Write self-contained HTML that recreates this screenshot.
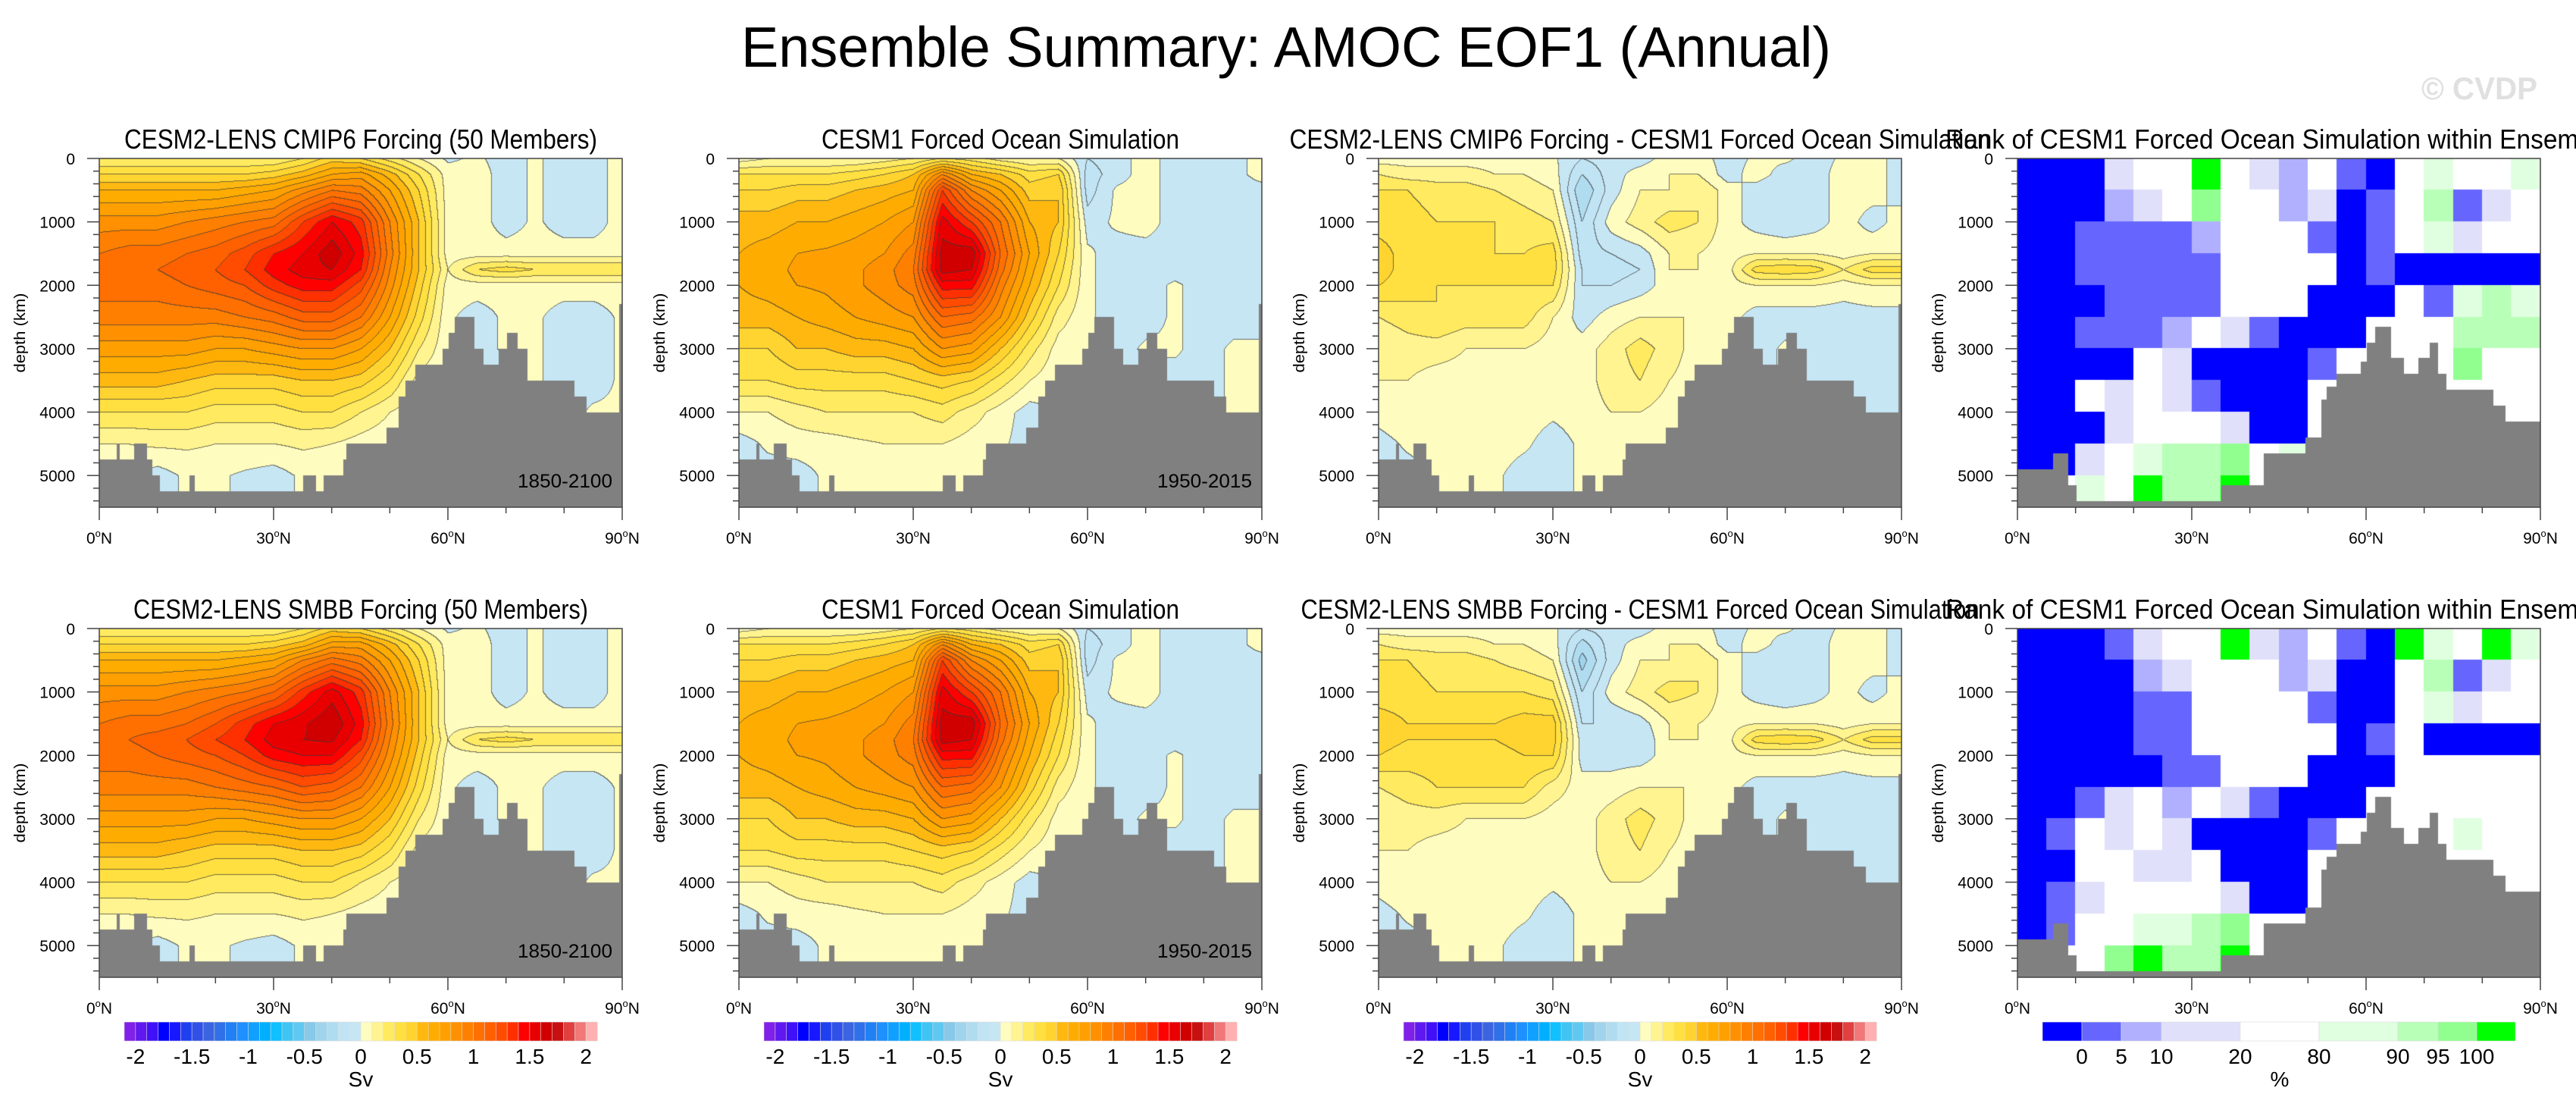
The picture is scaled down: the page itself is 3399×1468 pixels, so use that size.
<!DOCTYPE html>
<html><head><meta charset="utf-8"><title>Ensemble Summary: AMOC EOF1 (Annual)</title>
<style>
html,body{margin:0;padding:0;background:#fff}
body{width:3399px;height:1468px;position:relative;overflow:hidden;font-family:"Liberation Sans",sans-serif}
canvas{position:absolute}
#ov{position:absolute;left:0;top:0}
</style></head>
<body>
<canvas id="p0" width="690" height="460" style="left:131px;top:209px"></canvas>
<canvas id="p1" width="690" height="460" style="left:975px;top:209px"></canvas>
<canvas id="p2" width="690" height="460" style="left:1819px;top:209px"></canvas>
<canvas id="p3" width="690" height="460" style="left:2662px;top:209px"></canvas>
<canvas id="p4" width="690" height="460" style="left:131px;top:829px"></canvas>
<canvas id="p5" width="690" height="460" style="left:975px;top:829px"></canvas>
<canvas id="p6" width="690" height="460" style="left:1819px;top:829px"></canvas>
<canvas id="p7" width="690" height="460" style="left:2662px;top:829px"></canvas>
<svg id="ov" width="3399" height="1468" xmlns="http://www.w3.org/2000/svg" font-family="Liberation Sans, sans-serif">
<text x="1697" y="88" font-size="75" text-anchor="middle" textLength="1438" lengthAdjust="spacingAndGlyphs">Ensemble Summary: AMOC EOF1 (Annual)</text>
<text x="3348" y="131" font-size="42" font-weight="bold" fill="#e0e0e0" text-anchor="end" textLength="153" lengthAdjust="spacingAndGlyphs">© CVDP</text>
<g id="axes"></g>
</svg>
<script>
const latGrid=[0,5,10,15,20,25,30,35,40,45,50,55,60,65,70,75,80,85,90];
const depthGrid=[0,250,500,1000,1500,1750,2000,2500,3000,3500,4000,4500,5000];
const cmip6Field=[
[0.2,0.2,0.2,0.2,0.2,0.2,0.2,0.3,0.45,0.4,0.25,0.1,-0.02,0.02,-0.05,0.02,-0.05,-0.05,0.05],
[0.4,0.4,0.4,0.4,0.4,0.4,0.45,0.55,0.7,0.75,0.55,0.3,0.05,0.05,-0.05,0.02,-0.05,-0.05,0.05],
[0.6,0.6,0.6,0.6,0.6,0.65,0.7,0.85,1.0,0.95,0.7,0.4,0.05,0.05,-0.05,0.02,-0.05,-0.05,0.05],
[0.85,0.85,0.85,0.9,0.95,1.0,1.05,1.3,1.5,1.35,0.9,0.5,0.05,0.05,-0.05,0.02,-0.05,-0.05,0.05],
[1.0,1.05,1.05,1.1,1.15,1.25,1.4,1.5,1.68,1.45,0.95,0.5,0.05,0.05,0.05,0.05,0.05,0.05,0.05],
[1.05,1.1,1.1,1.15,1.2,1.3,1.45,1.55,1.6,1.4,0.9,0.5,0.1,0.3,0.35,0.3,0.3,0.3,0.3],
[1.05,1.05,1.05,1.1,1.15,1.2,1.35,1.45,1.45,1.25,0.85,0.45,0.05,0.05,0.05,0.05,0.05,0.05,0.05],
[0.95,0.95,0.95,0.95,0.95,1.0,1.05,1.15,1.15,1.0,0.7,0.35,0.02,-0.05,0.02,0.02,-0.05,-0.05,0.02],
[0.75,0.75,0.75,0.75,0.7,0.7,0.75,0.8,0.8,0.7,0.5,0.2,0.02,-0.05,0.02,0.02,-0.05,-0.05,0.02],
[0.55,0.55,0.55,0.5,0.45,0.45,0.45,0.5,0.5,0.45,0.3,0.05,0.02,-0.05,-0.05,0.02,-0.05,-0.05,0.02],
[0.3,0.3,0.3,0.3,0.25,0.25,0.25,0.3,0.3,0.2,0.1,0.02,0.02,-0.05,-0.05,-0.05,-0.05,0.02,0.02],
[0.1,0.1,0.12,0.12,0.1,0.1,0.1,0.12,0.1,0.05,0.02,0.02,0.02,-0.05,-0.05,-0.05,-0.05,0.02,0.02],
[0.02,0.02,-0.05,0.02,0.02,-0.02,-0.05,0.02,0.02,0.02,0.02,0.02,0.02,-0.05,-0.05,-0.05,-0.05,0.02,0.02]];
const cesm1Field=[
[0.05,0.1,0.1,0.1,0.1,0.15,0.2,0.3,0.25,0.15,0.1,0.1,-0.1,-0.05,0.05,-0.05,-0.05,-0.05,0.05],
[0.3,0.3,0.3,0.3,0.35,0.4,0.5,0.9,0.6,0.5,0.35,0.4,-0.15,-0.05,0.05,-0.05,-0.1,-0.05,0.05],
[0.4,0.4,0.45,0.45,0.5,0.55,0.6,1.3,0.9,0.7,0.45,0.5,-0.15,0.02,0.05,-0.05,-0.1,-0.05,-0.05],
[0.55,0.55,0.6,0.6,0.65,0.7,0.8,1.55,1.3,1.0,0.6,0.5,-0.05,0.02,0.05,-0.05,-0.1,-0.05,-0.05],
[0.6,0.65,0.7,0.72,0.75,0.8,0.95,1.65,1.68,1.1,0.7,0.4,0.02,-0.05,-0.05,-0.05,-0.05,-0.05,-0.05],
[0.62,0.66,0.72,0.75,0.78,0.85,1.0,1.65,1.6,1.05,0.65,0.35,0.02,-0.05,-0.05,-0.05,-0.05,-0.05,-0.05],
[0.6,0.65,0.7,0.72,0.78,0.85,0.95,1.45,1.45,0.95,0.6,0.3,0.02,-0.05,-0.05,0.02,-0.05,-0.05,-0.05],
[0.55,0.55,0.6,0.65,0.7,0.75,0.8,1.1,1.05,0.8,0.45,0.15,0.02,-0.05,-0.05,0.02,-0.05,-0.05,-0.05],
[0.4,0.4,0.5,0.5,0.55,0.55,0.6,0.8,0.75,0.5,0.25,0.05,0.02,-0.05,0.02,0.02,-0.05,0.02,0.02],
[0.3,0.3,0.35,0.35,0.35,0.35,0.4,0.45,0.4,0.25,0.1,0.02,0.02,-0.05,-0.05,-0.05,-0.05,0.02,0.02],
[0.1,0.1,0.15,0.2,0.2,0.2,0.2,0.25,0.15,0.05,-0.05,0.02,0.02,-0.05,-0.05,-0.05,-0.05,0.02,0.02],
[-0.05,0.02,0.05,0.05,0.08,0.1,0.1,0.1,0.05,0.02,-0.05,0.02,0.02,-0.05,-0.05,-0.05,-0.05,0.02,0.02],
[-0.05,-0.05,-0.05,0.02,0.02,0.02,0.02,0.02,0.02,0.02,-0.05,0.02,0.02,-0.05,-0.05,-0.05,-0.05,0.02,0.02]];
const diffCmip6Field=[
[0.05,0.05,0.05,0.05,0.05,0.05,0.02,-0.1,-0.05,-0.05,0.05,0.05,-0.05,0.02,0.02,-0.05,0.02,0.05,-0.05],
[0.2,0.15,0.15,0.15,0.1,0.1,0.05,-0.2,-0.05,0.05,0.1,0.1,-0.05,0.05,-0.05,-0.05,0.05,0.05,-0.05],
[0.3,0.3,0.25,0.25,0.2,0.15,0.1,-0.3,-0.05,0.1,0.1,0.2,0.05,-0.05,-0.1,-0.05,0.05,0.05,-0.05],
[0.35,0.35,0.3,0.3,0.3,0.25,0.2,-0.2,0.05,0.15,0.25,0.2,0.05,-0.05,-0.1,-0.05,0.05,-0.05,0.05],
[0.45,0.35,0.35,0.35,0.3,0.3,0.35,-0.15,-0.1,-0.05,0.1,0.1,0.05,0.1,0.1,0.1,0.05,0.1,0.1],
[0.45,0.35,0.35,0.35,0.3,0.3,0.35,-0.1,-0.15,-0.1,0.1,0.1,0.05,0.35,0.38,0.35,0.2,0.35,0.35],
[0.4,0.35,0.3,0.3,0.3,0.3,0.3,-0.1,-0.1,-0.05,0.05,0.05,0.05,0.1,0.1,0.1,0.05,0.1,0.1],
[0.2,0.25,0.3,0.25,0.25,0.25,0.1,-0.05,0.05,0.1,0.1,0.1,0.05,-0.05,-0.05,-0.05,-0.05,-0.05,-0.05],
[0.1,0.15,0.15,0.1,0.1,0.1,0.05,0.05,0.15,0.25,0.15,0.05,0.05,-0.05,0.02,-0.05,-0.05,-0.05,-0.05],
[0.1,0.1,0.05,0.05,0.05,0.05,0.02,0.05,0.15,0.2,0.1,0.05,0.05,-0.05,0.02,-0.05,-0.05,-0.05,-0.05],
[0.05,0.1,0.05,0.02,0.05,0.05,0.02,0.05,0.1,0.1,0.05,0.02,0.02,-0.05,-0.05,-0.05,-0.05,-0.05,-0.05],
[-0.05,0.02,0.05,0.05,0.05,0.02,-0.05,0.02,0.05,0.05,0.02,0.02,0.02,-0.05,-0.05,-0.05,-0.05,-0.05,-0.05],
[-0.05,-0.05,0.02,0.02,0.02,-0.05,-0.05,0.02,0.02,0.02,0.02,0.02,0.02,-0.05,-0.05,-0.05,-0.05,-0.05,-0.05]];
const smbbField=[
[0.2,0.2,0.2,0.2,0.2,0.2,0.2,0.3,0.45,0.4,0.25,0.1,-0.02,0.02,-0.05,0.02,-0.05,-0.05,0.05],
[0.4,0.4,0.4,0.4,0.4,0.4,0.45,0.55,0.75,0.75,0.55,0.3,0.05,0.05,-0.05,0.02,-0.05,-0.05,0.05],
[0.6,0.6,0.6,0.6,0.6,0.65,0.7,0.9,1.05,0.95,0.7,0.4,0.05,0.05,-0.05,0.02,-0.05,-0.05,0.05],
[0.85,0.85,0.85,0.9,0.95,1.0,1.1,1.35,1.55,1.35,0.9,0.5,0.05,0.05,-0.05,0.02,-0.05,-0.05,0.05],
[1.0,1.05,1.05,1.1,1.2,1.35,1.5,1.58,1.7,1.45,0.95,0.5,0.05,0.05,0.05,0.05,0.05,0.05,0.05],
[1.05,1.1,1.15,1.2,1.3,1.4,1.55,1.6,1.62,1.4,0.9,0.5,0.1,0.3,0.35,0.3,0.3,0.3,0.3],
[1.05,1.05,1.1,1.15,1.2,1.3,1.45,1.5,1.5,1.25,0.85,0.45,0.05,0.05,0.05,0.05,0.05,0.05,0.05],
[0.95,0.95,0.95,0.95,1.0,1.05,1.1,1.2,1.15,1.0,0.7,0.35,0.02,-0.05,0.02,0.02,-0.05,-0.05,0.02],
[0.75,0.75,0.75,0.75,0.7,0.7,0.75,0.8,0.8,0.7,0.5,0.2,0.02,-0.05,0.02,0.02,-0.05,-0.05,0.02],
[0.55,0.55,0.55,0.5,0.45,0.45,0.45,0.5,0.5,0.45,0.3,0.05,0.02,-0.05,-0.05,0.02,-0.05,-0.05,0.02],
[0.3,0.3,0.3,0.3,0.25,0.25,0.25,0.3,0.3,0.2,0.1,0.02,0.02,-0.05,-0.05,-0.05,-0.05,0.02,0.02],
[0.1,0.1,0.12,0.12,0.1,0.1,0.1,0.12,0.1,0.05,0.02,0.02,0.02,-0.05,-0.05,-0.05,-0.05,0.02,0.02],
[0.02,0.02,-0.05,0.02,0.02,-0.02,-0.05,0.02,0.02,0.02,0.02,0.02,0.02,-0.05,-0.05,-0.05,-0.05,0.02,0.02]];
const diffSmbbField=[
[0.05,0.05,0.05,0.05,0.05,0.05,0.02,-0.1,-0.05,-0.05,0.05,0.05,-0.05,0.02,0.02,-0.05,0.02,0.05,-0.05],
[0.2,0.15,0.15,0.15,0.1,0.1,0.05,-0.25,-0.05,0.05,0.1,0.1,-0.05,0.05,-0.05,-0.05,0.05,0.05,-0.05],
[0.3,0.3,0.25,0.25,0.2,0.15,0.1,-0.35,-0.05,0.1,0.1,0.2,0.05,-0.05,-0.1,-0.05,0.05,0.05,-0.05],
[0.35,0.35,0.3,0.3,0.3,0.3,0.25,-0.2,0.05,0.15,0.25,0.2,0.05,-0.05,-0.1,-0.05,0.05,-0.05,0.05],
[0.45,0.4,0.4,0.4,0.4,0.45,0.45,-0.1,-0.1,-0.05,0.1,0.1,0.05,0.1,0.1,0.1,0.05,0.1,0.1],
[0.45,0.4,0.4,0.4,0.4,0.45,0.45,-0.05,-0.1,-0.1,0.1,0.1,0.05,0.35,0.38,0.35,0.2,0.35,0.35],
[0.4,0.35,0.35,0.35,0.35,0.4,0.4,-0.05,-0.05,-0.05,0.05,0.05,0.05,0.1,0.1,0.1,0.05,0.1,0.1],
[0.2,0.25,0.3,0.3,0.3,0.3,0.15,0.05,0.05,0.1,0.1,0.1,0.05,-0.05,-0.05,-0.05,-0.05,-0.05,-0.05],
[0.1,0.15,0.15,0.1,0.1,0.1,0.05,0.05,0.15,0.25,0.15,0.05,0.05,-0.05,0.02,-0.05,-0.05,-0.05,-0.05],
[0.1,0.1,0.05,0.05,0.05,0.05,0.02,0.05,0.15,0.2,0.1,0.05,0.05,-0.05,0.02,-0.05,-0.05,-0.05,-0.05],
[0.05,0.1,0.05,0.02,0.05,0.05,0.02,0.05,0.1,0.1,0.05,0.02,0.02,-0.05,-0.05,-0.05,-0.05,-0.05,-0.05],
[-0.05,0.02,0.05,0.05,0.05,0.02,-0.05,0.02,0.05,0.05,0.02,0.02,0.02,-0.05,-0.05,-0.05,-0.05,-0.05,-0.05],
[-0.05,-0.05,0.02,0.02,0.02,-0.05,-0.05,0.02,0.02,0.02,0.02,0.02,0.02,-0.05,-0.05,-0.05,-0.05,-0.05,-0.05]];
const rankLatEdges=[0,5,10,15,20,25,30,35,40,45,50,55,60,65,70,75,80,85,90];
const rankDepthEdges=[0,500,1000,1500,2000,2500,3000,3500,4000,4500,5000,5500];
const rankCmip6=[
[-1,-1,-1,15,50,50,101,50,15,7,50,2,-1,50,85,50,50,85],
[-1,-1,-1,7,15,50,97,50,50,7,15,-1,2,50,92,2,15,50],
[-1,-1,2,2,2,2,7,50,50,50,2,-1,2,50,85,15,50,50],
[-1,-1,2,2,2,2,2,50,50,50,50,-1,2,-1,-1,-1,-1,-1],
[-1,-1,-1,2,2,2,2,50,50,50,-1,-1,-1,50,2,85,92,85],
[-1,-1,2,2,2,7,50,15,2,-1,-1,-1,50,50,50,92,92,92],
[-1,-1,-1,-1,50,15,-1,-1,-1,-1,2,50,50,50,50,97,50,50],
[-1,-1,50,15,50,15,2,-1,-1,-1,50,50,50,50,50,50,50,50],
[-1,-1,-1,15,50,50,50,15,-1,-1,50,50,50,50,50,50,50,50],
[-1,-1,15,50,85,92,92,97,50,85,50,50,50,50,50,50,50,50],
[50,50,85,50,101,92,92,101,50,50,50,50,50,50,50,50,50,50]];
const rankSmbb=[
[-1,-1,-1,2,15,50,50,101,15,7,50,2,-1,101,85,50,101,85],
[-1,-1,-1,-1,7,15,50,50,50,7,15,-1,-1,50,92,2,15,50],
[-1,-1,-1,-1,2,2,50,50,50,50,2,-1,-1,50,85,15,50,50],
[-1,-1,-1,-1,2,2,50,50,50,50,50,-1,2,50,-1,-1,-1,-1],
[-1,-1,-1,-1,-1,2,2,50,50,50,-1,-1,-1,50,50,50,50,50],
[-1,-1,2,15,50,7,50,15,2,-1,-1,-1,50,50,50,50,50,50],
[-1,2,50,15,50,15,-1,-1,-1,-1,2,50,50,50,50,85,50,50],
[-1,-1,50,50,15,15,50,-1,-1,-1,50,50,50,50,50,50,50,50],
[-1,2,15,50,50,50,50,15,-1,-1,50,50,50,50,50,50,50,50],
[-1,2,50,50,85,85,92,97,50,50,50,50,50,50,50,50,50,50],
[50,50,50,97,101,92,92,101,50,50,50,50,50,50,50,50,50,50]];
const topoLat=[0,3.0,3.4,6.1,8.2,9.1,10.4,15.6,16.4,35.1,37.3,38.7,42.0,42.6,49.5,51.6,52.8,54.4,59.1,60.2,61.3,64.5,66.1,68.8,70.3,72.0,73.6,81.7,83.8,89.5];
const topoDepth=[4750,4500,4750,4500,4750,5000,5250,5000,5250,5000,5250,5000,4750,4500,4250,3750,3500,3250,3000,2750,2500,3000,3250,3000,2750,3000,3500,3750,4000,2300];
const rankTopoLat=[0,6.2,8.7,10.1,35.2,42.4,49.6,52.4,53.3,55.0,59.2,60.2,61.6,64.2,66.4,69.0,71.0,72.3,73.8,81.9,83.9];
const rankTopoDepth=[4900,4650,5150,5400,5150,4650,4400,3800,3600,3400,3200,2900,2650,3150,3400,3150,2900,3400,3650,3900,4150];
const svTicks=[-2,-1.5,-1,-0.5,0,0.5,1,1.5,2];
const svLevels=[-2,-1.9,-1.8,-1.7,-1.6,-1.5,-1.4,-1.3,-1.2,-1.1,-1,-0.9,-0.8,-0.7,-0.6,-0.5,-0.4,-0.3,-0.2,-0.1,0,0.1,0.2,0.3,0.4,0.5,0.6,0.7,0.8,0.9,1,1.1,1.2,1.3,1.4,1.5,1.6,1.7,1.8,1.9,2];
const svColors=["#8020e8","#6018f0","#4010f8","#0000ff","#1818ff","#2040f0","#3050e8","#3c64e0","#3070e8","#2080f4","#1e90ff","#10a0ff","#00b0ff","#10c0ff","#40c4f4","#60c8f0","#88c8e8","#a0d4ec","#b0dcf0","#c0e4f4","#c6e6f4",
"#fffcc0","#fff490","#ffea60","#ffe040","#ffd430","#ffb810","#ffac00","#ffa000","#ff9000","#ff8000","#ff7000","#ff6000","#ff4c00","#ff3000","#ff0000","#e80000","#d00000","#c81010","#e04040","#f07878","#ffb0b0"];
const rankLevels=[0,5,10,20,80,90,95,100];
const rankColors=["#0000ff","#6666ff","#b0b0ff","#e0e0fa","#ffffff","#e0ffe0","#b8ffb8","#90ff90","#00ff00"];
const xTicks=[0,30,60,90];
const yTicks=[0,1000,2000,3000,4000,5000];

const W=690,H=460,LATMAX=90,DMAX=5500;
const panelX=[131,975,1819,2662], panelY=[209,829];
function xScale(lat){return lat/LATMAX*W;}
function yScale(d){return d/DMAX*H;}
function hex(c){return [parseInt(c.substr(1,2),16),parseInt(c.substr(3,2),16),parseInt(c.substr(5,2),16)];}
const svRGB=svColors.map(hex);
function svIndex(v){v=Math.round(v*1e6)/1e6;let i=0;while(i<svLevels.length&&v>=svLevels[i]-1e-9)i++;return i;}
function rankIndex(v){let i=0;while(i<rankLevels.length&&v>=rankLevels[i])i++;return i;}
function interp(field,lat,d){
  let i=0;while(i<latGrid.length-2&&lat>latGrid[i+1])i++;
  let j=0;if(d>depthGrid[depthGrid.length-1])d=depthGrid[depthGrid.length-1];
  while(j<depthGrid.length-2&&d>depthGrid[j+1])j++;
  const tx=Math.min(1,Math.max(0,(lat-latGrid[i])/(latGrid[i+1]-latGrid[i])));
  const ty=Math.min(1,Math.max(0,(d-depthGrid[j])/(depthGrid[j+1]-depthGrid[j])));
  const a=field[j][i],b=field[j][i+1],c=field[j+1][i],e=field[j+1][i+1];
  return a*(1-tx)*(1-ty)+b*tx*(1-ty)+c*(1-tx)*ty+e*tx*ty;
}
function drawTopo(ctx,lats,deps){
  ctx.fillStyle="#808080";
  for(let k=0;k<lats.length;k++){
    const x0=xScale(lats[k]),x1=xScale(k+1<lats.length?lats[k+1]:LATMAX);
    const y0=yScale(deps[k]);
    ctx.fillRect(Math.floor(x0),Math.round(y0),Math.ceil(x1)-Math.floor(x0),H-Math.round(y0));
  }
}
function drawContour(id,field){
  const cv=document.getElementById(id),ctx=cv.getContext("2d");
  const img=ctx.createImageData(W,H),idx=new Int16Array(W*H);
  for(let y=0;y<H;y++){const d=y/H*DMAX;for(let x=0;x<W;x++){idx[y*W+x]=svIndex(interp(field,x/W*LATMAX,d));}}
  for(let y=0;y<H;y++)for(let x=0;x<W;x++){
    const k=y*W+x,c=svRGB[idx[k]];let line=false;
    if(x<W-1&&idx[k+1]!==idx[k])line=true;
    if(y<H-1&&idx[k+W]!==idx[k])line=true;
    const p=k*4;
    if(line){img.data[p]=c[0]*0.3+40;img.data[p+1]=c[1]*0.3+40;img.data[p+2]=c[2]*0.3+40;}
    else{img.data[p]=c[0];img.data[p+1]=c[1];img.data[p+2]=c[2];}
    img.data[p+3]=255;
  }
  ctx.putImageData(img,0,0);
  drawTopo(ctx,topoLat,topoDepth);
}
function drawRank(id,grid){
  const cv=document.getElementById(id),ctx=cv.getContext("2d");
  ctx.fillStyle="#fff";ctx.fillRect(0,0,W,H);
  for(let j=0;j<grid.length;j++)for(let i=0;i<grid[j].length;i++){
    ctx.fillStyle=rankColors[rankIndex(grid[j][i])];
    const x0=Math.floor(xScale(rankLatEdges[i])),x1=Math.ceil(xScale(rankLatEdges[i+1]));
    const y0=Math.floor(yScale(rankDepthEdges[j])),y1=Math.ceil(yScale(rankDepthEdges[j+1]));
    ctx.fillRect(x0,y0,x1-x0,y1-y0);
  }
  drawTopo(ctx,rankTopoLat,rankTopoDepth);
}
drawContour("p0",cmip6Field);drawContour("p1",cesm1Field);drawContour("p2",diffCmip6Field);drawRank("p3",rankCmip6);
drawContour("p4",smbbField);drawContour("p5",cesm1Field);drawContour("p6",diffSmbbField);drawRank("p7",rankSmbb);

const NS="http://www.w3.org/2000/svg",G=document.getElementById("axes");
function mk(tag,attrs,parent){const e=document.createElementNS(NS,tag);for(const k in attrs)e.setAttribute(k,attrs[k]);(parent||G).appendChild(e);return e;}
const titles=[["CESM2-LENS CMIP6 Forcing (50 Members)",624],["CESM1 Forced Ocean Simulation",472],["CESM2-LENS CMIP6 Forcing - CESM1 Forced Ocean Simulation",925],["Rank of CESM1 Forced Ocean Simulation within Ensemble",880],
["CESM2-LENS SMBB Forcing (50 Members)",600],["CESM1 Forced Ocean Simulation",472],["CESM2-LENS SMBB Forcing - CESM1 Forced Ocean Simulation",895],["Rank of CESM1 Forced Ocean Simulation within Ensemble",880]];
const periods=["1850-2100","1950-2015",null,null,"1850-2100","1950-2015",null,null];
for(let p=0;p<8;p++){
  const px=panelX[p%4],py=panelY[Math.floor(p/4)];
  const g=mk("g",{});
  
  
  const t=mk("text",{x:px+345,y:py-13,"font-size":36,"text-anchor":"middle",textLength:titles[p][1],lengthAdjust:"spacingAndGlyphs"},g);
  t.textContent=titles[p][0];
  
  
  const fr=mk("rect",{x:px,y:py,width:W,height:H,fill:"none",stroke:"#444","stroke-width":1.5},g);
  
  
  for(let d=0;d<=5400;d+=200){
    const major=(d%1000===0);const y=py+yScale(d);
    const tk=mk("line",{x1:px-(major?16:8),x2:px,y1:y,y2:y,stroke:"#444","stroke-width":1.5},g);
    
    
  }
  yTicks.forEach(v=>{
    const tl=mk("text",{x:px-32,y:py+yScale(v)+8,"font-size":21,"text-anchor":"end"},g);
    tl.textContent=String(v);
    
    
  });
  const yt=mk("text",{x:px-98,y:py+H/2,"font-size":20,"text-anchor":"middle",textLength:105,lengthAdjust:"spacingAndGlyphs",transform:"rotate(-90 "+(px-98)+" "+(py+H/2)+")"},g);
  yt.textContent="depth (km)";
  
  
  for(let l=0;l<=90;l+=10){
    const major=(l%30===0);const x=px+xScale(l);
    const tk=mk("line",{x1:x,x2:x,y1:py+H,y2:py+H+(major?17:8),stroke:"#444","stroke-width":1.5},g);
    
    
  }
  xTicks.forEach(v=>{
    const tl=mk("text",{x:px+xScale(v),y:py+H+48,"font-size":21,"text-anchor":"middle"},g);
    
    
    const a=mk("tspan",{},tl);a.textContent=String(v);
    const b=mk("tspan",{"font-size":13,dy:-9},tl);b.textContent="o";
    const c=mk("tspan",{dy:9},tl);c.textContent="N";
  });
  if(periods[p]){
    const pl=mk("text",{x:px+677,y:py+434,"font-size":25,"text-anchor":"end",textLength:125,lengthAdjust:"spacingAndGlyphs"},g);
    pl.textContent=periods[p];
    
    
  }
}
const cbY=1348,cbH=25;
for(let c=0;c<3;c++){
  const x0=panelX[c]+33,bw=624/svColors.length;
  const g=mk("g",{});
  
  
  svColors.forEach((col,i)=>{
    const r=mk("rect",{x:x0+i*bw,y:cbY,width:bw+0.3,height:cbH,fill:col,stroke:"#ddd","stroke-width":0.6},g);
    
    
  });
  svTicks.forEach(v=>{
    const k=svLevels.findIndex(l=>Math.abs(l-v)<1e-9);
    const tl=mk("text",{x:x0+(k+1)*bw,y:1403,"font-size":28,"text-anchor":"middle"},g);
    tl.textContent=String(v);
    
    
  });
  const u=mk("text",{x:x0+312,y:1433,"font-size":28,"text-anchor":"middle"},g);
  u.textContent="Sv";
  
  
}
const rankBoxW=[52,52,53,104,104,104,53,51,51];
{
  const g=mk("g",{});
  
  
  let x=2695;
  rankColors.forEach((col,i)=>{
    const r=mk("rect",{x:x,y:cbY,width:rankBoxW[i],height:cbH,fill:col,stroke:"#ddd","stroke-width":0.6},g);
    
    
    x+=rankBoxW[i];
    if(i<rankLevels.length){
      const tl=mk("text",{x:x,y:1403,"font-size":28,"text-anchor":"middle"},g);
      tl.textContent=String(rankLevels[i]);
      
      
    }
  });
  const u=mk("text",{x:3008,y:1433,"font-size":28,"text-anchor":"middle"},g);
  u.textContent="%";
  
  
}
</script>
</body></html>
